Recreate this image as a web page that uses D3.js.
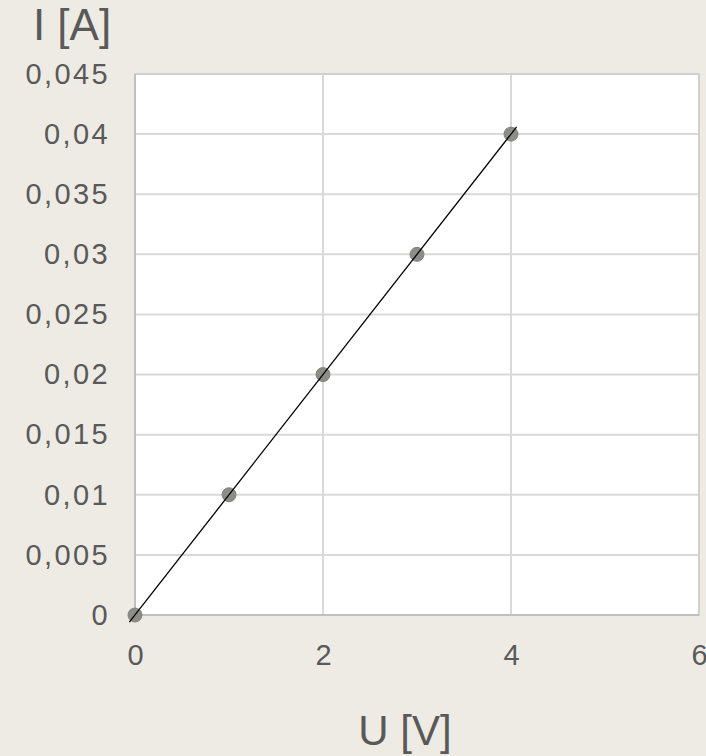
<!DOCTYPE html>
<html><head><meta charset="utf-8">
<script src="https://cdn.jsdelivr.net/npm/d3@7"></script>
<style>
html,body{margin:0;padding:0;background:#eeebe4;}
svg{display:block;}
</style></head>
<body>
<svg id="c" width="706" height="756"></svg>
<script>
const voltage = [0, 1, 2, 3, 4];
const current = [0, 0.01, 0.02, 0.03, 0.04];
const trendU = [-0.06, 4.06];
const trendI = [-0.0006, 0.0406];
const xTicks = [0, 2, 4, 6];
const yTicks = [0, 0.005, 0.01, 0.015, 0.02, 0.025, 0.03, 0.035, 0.04, 0.045];
const yTickLabels = ["0","0,005","0,01","0,015","0,02","0,025","0,03","0,035","0,04","0,045"];
const xTitle = "U [V]";
const yTitle = "I [A]";

const svg = d3.select("#c");
const L = 135, R = 699, T = 74, B = 615;
const x = d3.scaleLinear().domain([0, 6]).range([L, R]);
const y = d3.scaleLinear().domain([0, 0.045]).range([B, T]);
const textColor = "#595959";
const tickFont = "'Liberation Sans', Arial, sans-serif";
const titleFont = "'Liberation Sans', Arial, sans-serif";

svg.append("rect").attr("x", L).attr("y", T).attr("width", R - L).attr("height", B - T)
  .attr("fill", "#fff");

// gridlines
svg.append("g").selectAll("line").data(yTicks.slice(1)).join("line")
  .attr("x1", L).attr("x2", R).attr("y1", d => y(d)).attr("y2", d => y(d))
  .attr("stroke", "#d9d9d9").attr("stroke-width", 2);
svg.append("g").selectAll("line").data(xTicks.slice(1)).join("line")
  .attr("y1", T).attr("y2", B).attr("x1", d => x(d)).attr("x2", d => x(d))
  .attr("stroke", "#d9d9d9").attr("stroke-width", 2);

svg.append("rect").attr("x", L).attr("y", T).attr("width", R - L).attr("height", B - T)
  .attr("fill", "none").attr("stroke", "#d0d0d0").attr("stroke-width", 2);
// axis lines
svg.append("line").attr("x1", L).attr("x2", L).attr("y1", T).attr("y2", B).attr("stroke", "#bfbfbf").attr("stroke-width", 2);
svg.append("line").attr("x1", L).attr("x2", R).attr("y1", B).attr("y2", B).attr("stroke", "#bfbfbf").attr("stroke-width", 2);

// axes via d3
const yAxis = d3.axisLeft(y).tickValues(yTicks).tickFormat((d, i) => yTickLabels[i]).tickSize(0).tickPadding(25);
const gy = svg.append("g").attr("transform", `translate(${L},0)`).call(yAxis);
gy.select(".domain").remove();
gy.selectAll("text").attr("fill", textColor).style("font-family", tickFont).style("font-size", "29px").style("letter-spacing", "2.4px");

const xAxis = d3.axisBottom(x).tickValues(xTicks).tickFormat(d => String(d)).tickSize(0).tickPadding(29);
const gx = svg.append("g").attr("transform", `translate(0,${B})`).call(xAxis);
gx.select(".domain").remove();
gx.selectAll("text").attr("fill", textColor).style("font-family", tickFont).style("font-size", "29px");

// trendline
const line = d3.line().x(d => x(d[0])).y(d => y(d[1]));

// points
svg.append("g").selectAll("circle").data(d3.zip(voltage, current)).join("circle")
  .attr("cx", d => x(d[0])).attr("cy", d => y(d[1])).attr("r", 7)
  .attr("fill", "#8d8d88").attr("stroke", "#82827d").attr("stroke-width", 1);

svg.append("path").datum(d3.zip(trendU, trendI)).attr("d", line)
  .attr("fill", "none").attr("stroke", "#000").attr("stroke-width", 1.3);

svg.append("text").attr("x", 72).attr("y", 40).attr("text-anchor", "middle")
  .attr("fill", textColor).style("font-family", titleFont).style("font-size", "44px").text(yTitle);
svg.append("text").attr("x", 405).attr("y", 745).attr("text-anchor", "middle")
  .attr("fill", textColor).style("font-family", titleFont).style("font-size", "42px").text(xTitle);
</script>
</body></html>
